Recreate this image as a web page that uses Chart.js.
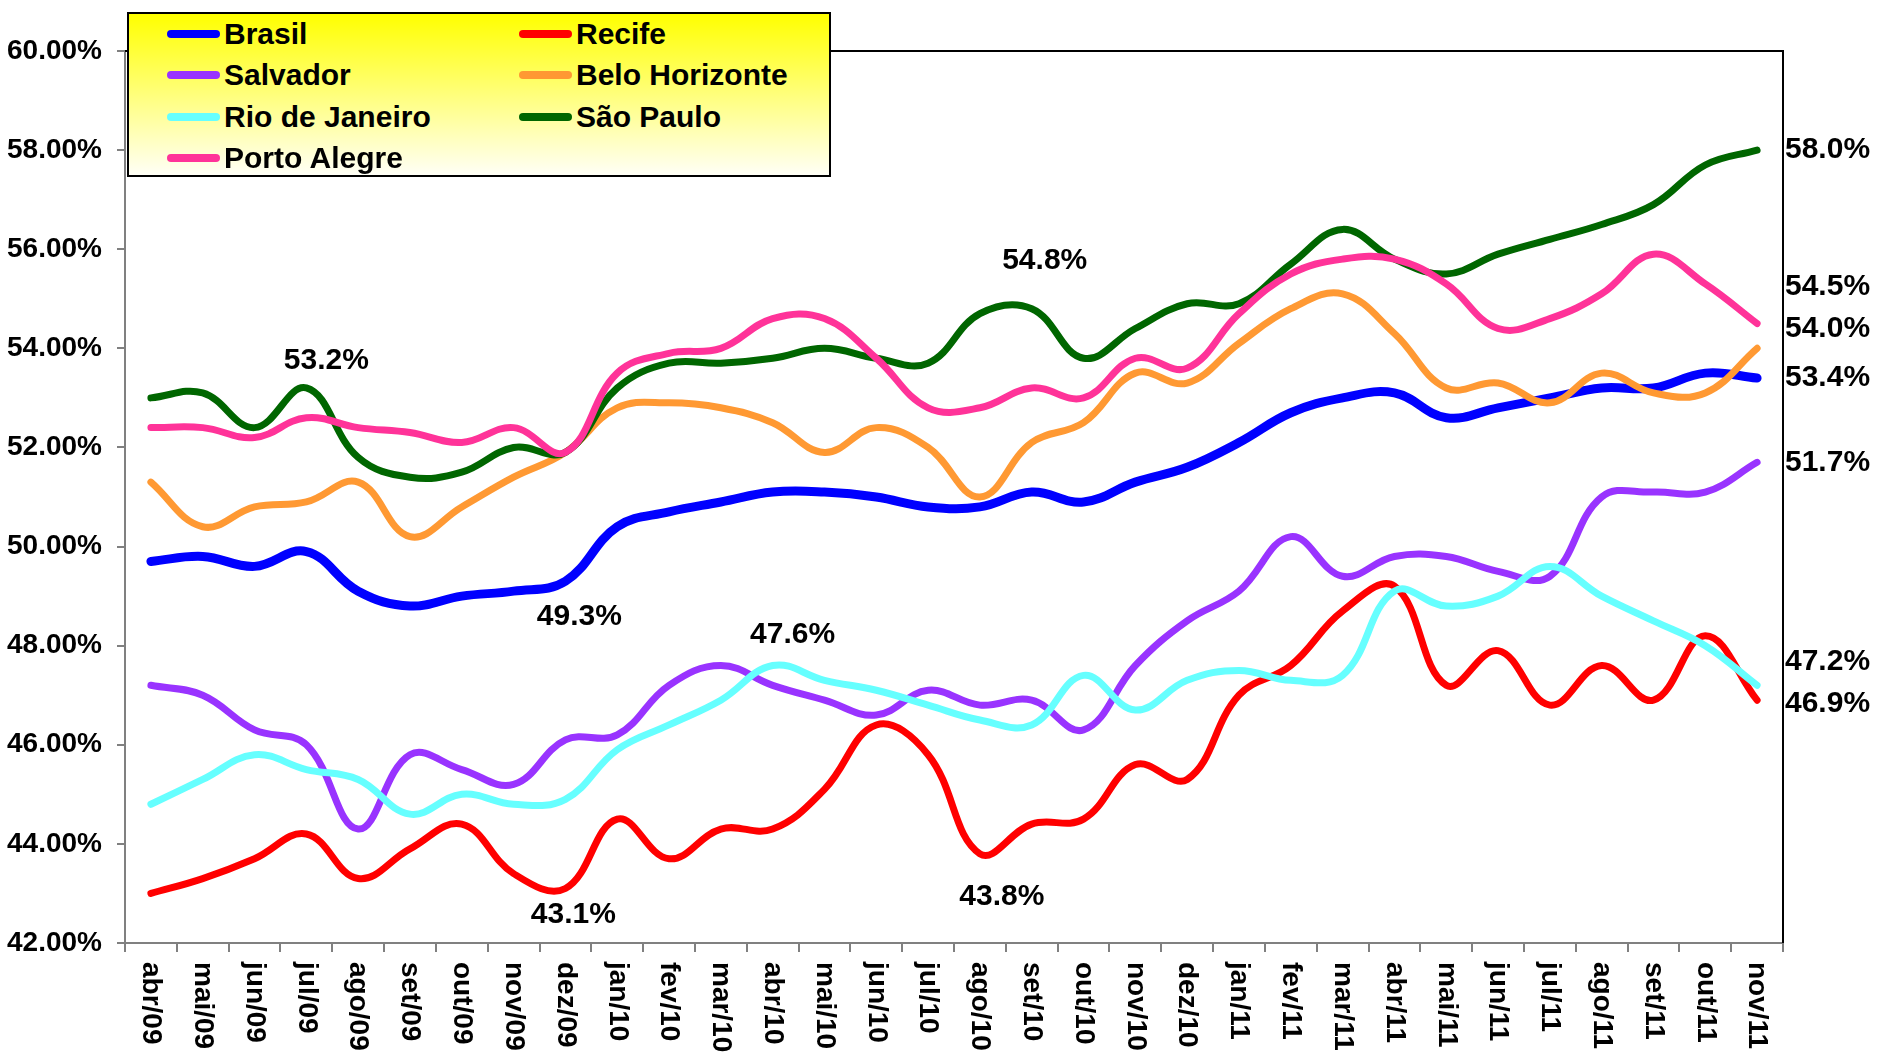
<!DOCTYPE html>
<html>
<head>
<meta charset="utf-8">
<script src="https://cdn.jsdelivr.net/npm/chart.js@4.4.1/dist/chart.umd.min.js"></script>
<style>
  body { margin: 0; background: #fff; }
  #wrap { position: relative; width: 1878px; height: 1054px; }
  #legend {
    position: absolute; left: 127px; top: 12px; width: 700px; height: 161px;
    border: 2px solid #000;
    background: linear-gradient(#ffff00, #fffff6);
    font: bold 30px "Liberation Sans", Arial, sans-serif;
  }
  .item { position: absolute; height: 40px; display: flex; align-items: center; }
  .swatch { width: 53px; height: 8px; border-radius: 4px; margin-right: 4px; }
</style>
</head>
<body>
<div id="wrap">
  <canvas id="chart" width="1878" height="1054"></canvas>
  <div id="legend"></div>
</div>
<script>
// months on the x axis
const months = ["abr/09", "mai/09", "jun/09", "jul/09", "ago/09", "set/09", "out/09", "nov/09",
  "dez/09", "jan/10", "fev/10", "mar/10", "abr/10", "mai/10", "jun/10", "jul/10", "ago/10",
  "set/10", "out/10", "nov/10", "dez/10", "jan/11", "fev/11", "mar/11", "abr/11", "mai/11",
  "jun/11", "jul/11", "ago/11", "set/11", "out/11", "nov/11"];

// values (%)
const brasil = [49.7, 49.8, 49.6, 49.9, 49.1, 48.8, 49.0, 49.1, 49.3, 50.4, 50.7, 50.9, 51.1, 51.1, 51.0, 50.8,
  50.8, 51.1, 50.9, 51.3, 51.6, 52.1, 52.7, 53.0, 53.1, 52.6, 52.8, 53.0, 53.2, 53.2, 53.5, 53.4];
const recife = [43.0, 43.3, 43.7, 44.2, 43.3, 43.9, 44.4, 43.4, 43.1, 44.5, 43.7, 44.3, 44.3, 45.1, 46.4, 45.8,
  43.8, 44.4, 44.5, 45.6, 45.3, 47.0, 47.6, 48.7, 49.2, 47.2, 47.9, 46.8, 47.6, 46.9, 48.2, 46.9];
const salvador = [47.2, 47.0, 46.3, 46.0, 44.3, 45.8, 45.5, 45.2, 46.1, 46.2, 47.2, 47.6, 47.2, 46.9, 46.6, 47.1,
  46.8, 46.9, 46.3, 47.6, 48.5, 49.1, 50.2, 49.4, 49.8, 49.8, 49.5, 49.4, 51.0, 51.1, 51.1, 51.7];
const beloHorizonte = [51.3, 50.4, 50.8, 50.9, 51.3, 50.2, 50.8, 51.4, 51.9, 52.8, 52.9, 52.8, 52.5, 51.9, 52.4, 52.0,
  51.0, 52.1, 52.5, 53.5, 53.3, 54.1, 54.8, 55.1, 54.3, 53.2, 53.3, 52.9, 53.5, 53.1, 53.1, 54.0];
const rioDeJaneiro = [44.8, 45.3, 45.8, 45.5, 45.3, 44.6, 45.0, 44.8, 44.9, 45.9, 46.4, 46.9, 47.6, 47.3, 47.1, 46.8,
  46.5, 46.4, 47.4, 46.7, 47.3, 47.5, 47.3, 47.4, 49.1, 48.8, 49.0, 49.6, 49.0, 48.5, 48.0, 47.2];
const saoPaulo = [53.0, 53.1, 52.4, 53.2, 51.8, 51.4, 51.5, 52.0, 51.9, 53.2, 53.7, 53.7, 53.8, 54.0, 53.8, 53.7,
  54.7, 54.8, 53.8, 54.4, 54.9, 54.9, 55.7, 56.4, 55.8, 55.5, 55.9, 56.2, 56.5, 56.9, 57.7, 58.0];
const portoAlegre = [52.4, 52.4, 52.2, 52.6, 52.4, 52.3, 52.1, 52.4, 51.9, 53.5, 53.9, 54.0, 54.6, 54.6, 53.8, 52.8,
  52.8, 53.2, 53.0, 53.8, 53.6, 54.7, 55.5, 55.8, 55.8, 55.3, 54.4, 54.6, 55.1, 55.9, 55.3, 54.5];

const seriesNames = ["Brasil", "Recife", "Salvador", "Belo Horizonte", "Rio de Janeiro", "São Paulo", "Porto Alegre"];
const seriesValues = [brasil, recife, salvador, beloHorizonte, rioDeJaneiro, saoPaulo, portoAlegre];
const seriesColors = ["#0000ff", "#ff0000", "#9933ff", "#ff9933", "#66ffff", "#006600", "#ff3399"];
const seriesWidths = [9, 7, 7, 7, 7, 7, 7];

// y axis ticks
const yMin = 42, yMax = 60, yStep = 2;

const FONT = '"Liberation Sans", Arial, sans-serif';

// labels on single points: [series index, month index, dx, dy]
const pointLabels = [[5, 3, 20, -27], [0, 8, 14, 35], [4, 12, 20, -31], [1, 8, 8, 26], [5, 17, 13, -48], [1, 16, 22, 43]];
// labels at the right end: [series index, dy]
const endLabels = [[5, 0], [6, -37], [3, -20], [0, 0], [2, 0], [4, -24], [1, 4]];

//builds the legend box
const legend = document.getElementById("legend");
seriesNames.forEach((name, i) => {
  const item = document.createElement("div");
  item.className = "item";
  item.style.left = (i % 2 == 0 ? 38 : 390) + "px";
  item.style.top = (Math.floor(i / 2) * 41.3) + "px";
  item.innerHTML = '<div class="swatch" style="background:' + seriesColors[i] + '"></div>' + name;
  legend.appendChild(item);
});

//draws the rotated month labels, the frame and the value labels
const extras = {
  id: "extras",
  afterDraw(chart) {
    const ctx = chart.ctx;
    const area = chart.chartArea;
    const x = chart.scales.x;
    ctx.save();

    // top and right frame lines
    ctx.strokeStyle = "#000";
    ctx.lineWidth = 2;
    ctx.beginPath();
    ctx.moveTo(area.left, area.top);
    ctx.lineTo(area.right, area.top);
    ctx.lineTo(area.right, area.bottom);
    ctx.stroke();

    // month labels, reading downwards
    ctx.fillStyle = "#000";
    ctx.font = "bold 28px " + FONT;
    ctx.textAlign = "left";
    ctx.textBaseline = "middle";
    months.forEach((m, i) => {
      ctx.save();
      ctx.translate(x.getPixelForValue(i), area.bottom + 19);
      ctx.rotate(Math.PI / 2);
      ctx.fillText(m, 0, 0);
      ctx.restore();
    });

    // value labels
    ctx.font = "bold 30px " + FONT;
    ctx.textAlign = "center";
    pointLabels.forEach(([s, i, dx, dy]) => {
      const p = chart.getDatasetMeta(s).data[i];
      ctx.fillText(seriesValues[s][i].toFixed(1) + "%", p.x + dx, p.y + dy);
    });
    ctx.textAlign = "left";
    endLabels.forEach(([s, dy]) => {
      const meta = chart.getDatasetMeta(s);
      const p = meta.data[meta.data.length - 1];
      const v = seriesValues[s][seriesValues[s].length - 1];
      ctx.fillText(v.toFixed(1) + "%", area.right + 2, p.y + dy);
    });
    ctx.restore();
  }
};

const ctx = document.getElementById("chart").getContext("2d");
const myChart = new Chart(ctx, {
  type: "line",
  data: {
    labels: months,
    datasets: seriesNames.map((name, i) => ({
      label: name,
      data: seriesValues[i],
      borderColor: seriesColors[i],
      backgroundColor: seriesColors[i],
      borderWidth: seriesWidths[i],
      borderCapStyle: "round",
      borderJoinStyle: "round",
      pointRadius: 0,
      tension: 0.4,
      order: seriesNames.length - i,
    })),
  },
  options: {
    responsive: false,
    animation: false,
    events: [],
    layout: { padding: { top: 51, right: 95, left: 0, bottom: 0 } },
    plugins: {
      legend: { display: false },
      tooltip: { enabled: false },
    },
    scales: {
      x: {
        offset: true,
        afterFit: (scale) => { scale.height = 111; },
        grid: { offset: true, drawOnChartArea: false, drawTicks: true, tickLength: 9, color: "#808080", lineWidth: 2 },
        border: { color: "#808080", width: 2 },
        ticks: { display: false },
      },
      y: {
        min: yMin,
        max: yMax,
        afterFit: (scale) => { scale.width = 125; },
        grid: { drawOnChartArea: false, drawTicks: true, tickLength: 8, color: "#808080", lineWidth: 2 },
        border: { color: "#808080", width: 2 },
        ticks: {
          stepSize: yStep,
          padding: 15,
          color: "#000",
          font: { family: FONT, size: 28, weight: "bold" },
          callback: (v) => v.toFixed(2) + "%",
        },
      },
    },
  },
  plugins: [extras],
});
</script>
</body>
</html>
